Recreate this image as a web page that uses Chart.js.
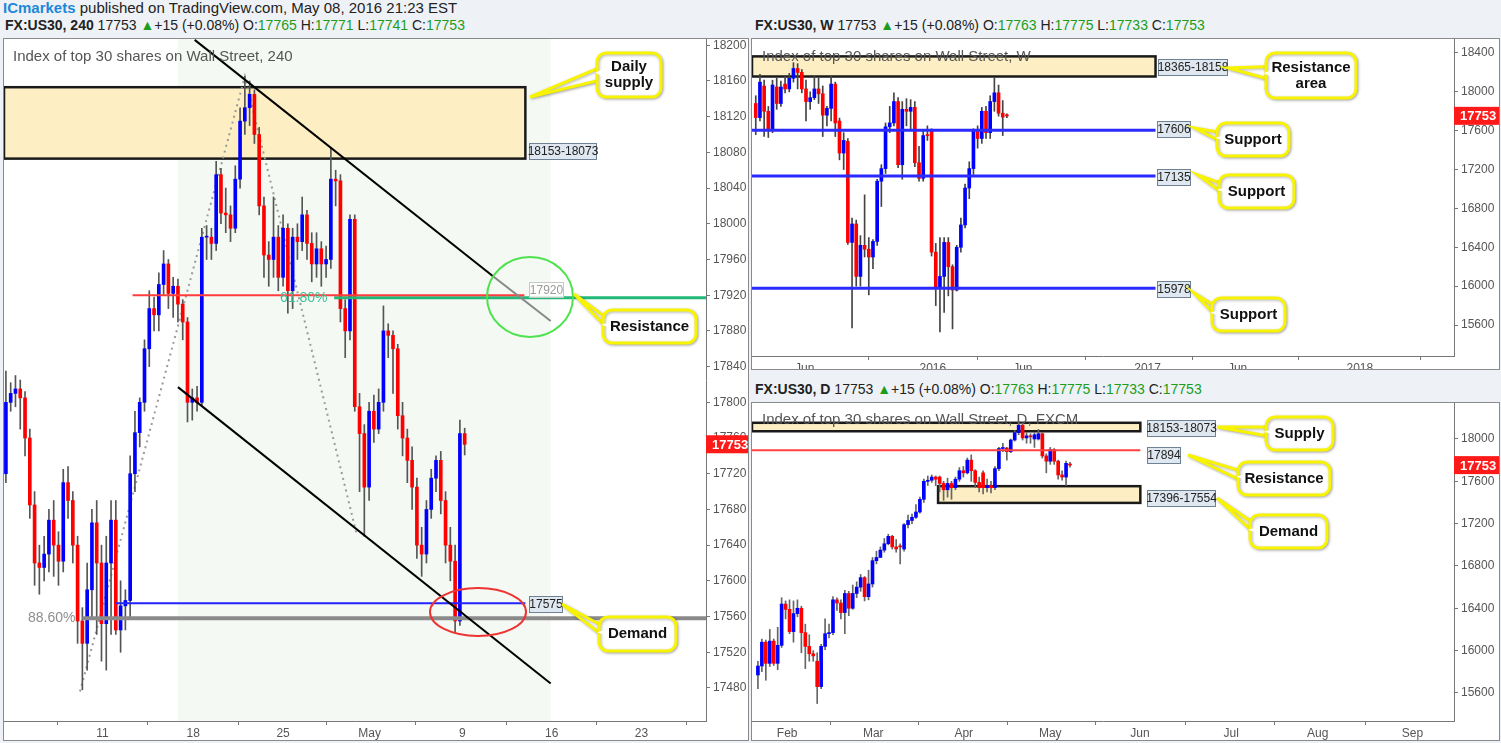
<!DOCTYPE html>
<html><head><meta charset="utf-8">
<script src="https://cdn.jsdelivr.net/npm/chart.js@4.4.0/dist/chart.umd.min.js"></script>
<style>
body{margin:0;width:1501px;height:743px;background:#eef2f6;position:relative;overflow:hidden;font-family:"Liberation Sans Narrow","Liberation Sans",Arial,sans-serif;}
.hdr{position:absolute;font-size:14px;white-space:nowrap;color:#222;line-height:16px}
.g{color:#1b9d1b}.b{font-weight:bold}
.frame{position:absolute;background:#fff;border:1px solid #8a8a8a;box-sizing:border-box}
canvas{position:absolute}
</style></head><body>
<div class="hdr" style="left:3px;top:0px;font-size:15px"><span style="color:#1e88d8;font-weight:bold">ICmarkets</span> published on TradingView.com, May 08, 2016 21:23 EST</div>
<div class="hdr" style="left:5px;top:17px"><span class="b">FX:US30, 240</span> 17753 <span class="g">▲</span>+15 (+0.08%) O:<span class="g">17765</span> H:<span class="g">17771</span> L:<span class="g">17741</span> C:<span class="g">17753</span></div>
<div class="hdr" style="left:755px;top:17px"><span class="b">FX:US30, W</span> 17753 <span class="g">▲</span>+15 (+0.08%) O:<span class="g">17763</span> H:<span class="g">17775</span> L:<span class="g">17733</span> C:<span class="g">17753</span></div>
<div class="hdr" style="left:755px;top:381px"><span class="b">FX:US30, D</span> 17753 <span class="g">▲</span>+15 (+0.08%) O:<span class="g">17763</span> H:<span class="g">17775</span> L:<span class="g">17733</span> C:<span class="g">17753</span></div>
<div class="frame" style="left:3px;top:38px;width:746px;height:703px"></div>
<div class="frame" style="left:751px;top:38px;width:749px;height:332px"></div>
<div class="frame" style="left:751px;top:402px;width:749px;height:339px"></div>
<canvas id="c1" width="744" height="701" style="left:4px;top:39px"></canvas>
<canvas id="c2" width="747" height="330" style="left:752px;top:39px"></canvas>
<canvas id="c3" width="747" height="337" style="left:752px;top:403px"></canvas>
<script>
// ---------- 240 (4-hour) chart data ----------
const h4Open  = [17720,17800,17810,17815,17805,17760,17685,17620,17615,17630,17668,17640,17622,17710,17690,17640,17555,17530,17590,17665,17620,17552,17620,17668,17545,17572,17578,17720,17766,17800,17860,17905,17898,17932,17955,17922,17930,17910,17890,17800,17805,17800,17985,17985,17978,18055,18012,18010,17995,18050,18115,18130,18145,18100,18020,17965,17960,17985,17940,17995,17925,17985,17980,18010,17978,17955,17972,17955,17960,18050,18048,17905,17880,18005,17795,17765,17705,17790,17770,17800,17880,17875,17860,17785,17760,17735,17705,17640,17630,17680,17715,17735,17690,17640,17622,17555,17765];
const h4Close = [17800,17810,17815,17805,17760,17685,17620,17615,17630,17668,17640,17622,17710,17690,17640,17555,17530,17590,17665,17620,17552,17620,17668,17545,17572,17578,17720,17766,17800,17860,17905,17898,17932,17955,17922,17930,17910,17890,17800,17805,17800,17985,17985,17978,18055,18012,18010,17995,18050,18115,18130,18145,18100,18020,17965,17960,17985,17940,17995,17925,17985,17980,18010,17978,17955,17972,17955,17960,18050,18048,17905,17880,18005,17795,17765,17705,17790,17770,17800,17880,17875,17860,17785,17760,17735,17705,17640,17630,17680,17715,17735,17690,17640,17622,17555,17765,17753];
const h4High  = [17835,17822,17830,17825,17812,17770,17700,17640,17650,17680,17690,17655,17725,17728,17700,17650,17570,17620,17680,17690,17640,17650,17690,17690,17600,17590,17740,17790,17805,17870,17925,17918,17945,17970,17960,17940,17938,17915,17895,17815,17818,17995,17998,17995,18070,18062,18040,18020,18065,18130,18165,18160,18150,18108,18030,17980,18030,17998,18010,18000,17995,18000,18030,18015,17990,17990,17980,17975,18085,18060,18055,17915,18010,18010,17810,17775,17800,17808,17815,17908,17888,17880,17865,17800,17770,17750,17715,17660,17690,17725,17740,17745,17700,17660,17640,17780,17771];
const h4Low   = [17710,17790,17795,17770,17740,17670,17595,17585,17600,17610,17605,17595,17610,17670,17620,17530,17478,17500,17560,17540,17510,17500,17540,17540,17520,17545,17560,17700,17750,17790,17840,17880,17880,17920,17905,17895,17890,17870,17778,17780,17790,17795,17960,17960,17970,18000,17990,17980,17990,18040,18100,18110,18090,18010,17940,17930,17940,17925,17930,17900,17905,17960,17970,17960,17935,17940,17930,17940,17950,18020,17890,17850,17870,17790,17700,17650,17690,17755,17765,17790,17850,17810,17770,17740,17710,17680,17625,17605,17620,17670,17700,17675,17620,17600,17542,17550,17741];
const h4XTickPos    = [20.2, 39.2, 58, 76.1, 95.5, 114.2, 133];
const h4XTickLabels = ['11','18','25','May','9','16','23'];
const h4YTicks = [17480,17520,17560,17600,17640,17680,17720,17760,17800,17840,17880,17920,17960,18000,18040,18080,18120,18160,18200];
const h4Supply = [18073, 18153];
const h4Resistance = 17920, h4Fib618 = 17917, h4Demand = 17575, h4Fib886 = 17558;

// ---------- Weekly chart data ----------
const wOpen  = [17880,17735,18060,17800,17610,18050,17880,18080,18030,18140,18240,18200,18030,17900,17940,18030,17980,17760,17830,18080,17700,17370,17490,16450,16640,16100,16420,16380,16300,16460,17080,17210,17640,17680,17900,17250,17820,17800,17840,17270,17110,17560,17600,16350,15990,16100,16450,16200,15960,16400,16630,17010,17210,17600,17520,17800,17580,17900,17990,17780,17763];
const wClose = [17735,18100,17800,17610,18070,17880,18050,18030,18140,18240,18200,18030,17900,17940,18030,17980,17760,17830,18080,17680,17370,17500,16450,16640,16100,16420,16380,16300,16460,17080,17210,17640,17680,17900,17250,17820,17800,17840,17270,17110,17550,17550,16350,15990,16100,16450,16200,15960,16400,16630,17010,17210,17600,17520,17800,17580,17900,17990,17780,17740,17753];
const wHigh  = [17960,18180,18120,17850,18120,18140,18110,18170,18190,18300,18290,18230,18120,18000,18160,18140,18060,17850,18160,18100,17730,17580,17520,16700,16680,16520,16940,16500,16480,17100,17250,17680,17850,17990,17940,17900,17930,17920,17900,17440,17610,17650,17620,16440,16500,16500,16500,16220,16420,16700,17050,17280,17620,17650,17840,17850,17960,18150,18070,17910,17775];
const wLow   = [17560,17700,17540,17530,17580,17820,17850,17990,18000,18100,18030,17990,17700,17820,17920,17880,17540,17650,17700,17540,17300,17200,16430,15570,16000,16000,16300,15910,16180,16420,16820,17160,17580,17650,17220,17100,17650,17600,17230,17080,17080,17500,16310,15800,15530,15730,15900,15560,15950,16350,16600,16900,17150,17420,17470,17520,17520,17800,17750,17550,17733];
const wXTickPos    = [11.7, 42.3, 63.8, 93.6, 115.1, 144.3];
const wXTickLabels = ['Jun','2016','Jun','2017','Jun','2018'];
const wYTicks = [15600,16000,16400,16800,17200,17600,18000,18400];
const wResistArea = [18158, 18365];
const wSupports = [17606, 17135, 15978];

// ---------- Daily chart data ----------
const dOpen  = [15770,15855,16080,15880,16090,15880,16050,16440,16390,16180,16350,16400,16170,16040,15970,15900,15660,16040,16160,16170,16480,16450,16360,16540,16400,16540,16600,16690,16510,16630,16850,16880,16950,17010,17080,16980,16990,16960,17190,17230,17260,17310,17430,17600,17610,17640,17640,17580,17520,17580,17540,17620,17700,17680,17800,17700,17590,17680,17540,17560,17540,17720,17910,17915,17880,17990,18060,18130,18010,18030,18000,18000,18050,17840,17790,17900,17790,17660,17640,17763];
const dClose = [15855,16080,15880,16090,15880,16050,16440,16390,16180,16350,16400,16170,16040,15970,15950,15660,16040,16160,16170,16480,16450,16360,16540,16400,16540,16600,16690,16510,16630,16850,16880,16950,17010,17080,16980,16960,16980,17190,17230,17260,17310,17430,17600,17610,17640,17620,17580,17520,17580,17540,17620,17700,17680,17800,17700,17590,17540,17540,17560,17540,17720,17910,17915,17880,17990,18060,18130,18010,18030,18020,18040,18050,17840,17790,17900,17790,17660,17640,17770,17753];
const dHigh  = [15900,16110,16100,16200,16110,16220,16500,16470,16480,16470,16480,16420,16250,16150,16000,15980,16060,16300,16250,16510,16500,16480,16570,16560,16620,16650,16720,16700,16760,16880,16940,16980,17060,17100,17090,17050,17010,17200,17280,17290,17380,17450,17620,17650,17660,17650,17650,17600,17630,17600,17640,17730,17740,17820,17850,17710,17640,17700,17620,17600,17740,17920,17960,17920,18000,18080,18170,18150,18060,18050,18060,18090,18060,17860,17920,17910,17800,17700,17790,17780];
const dLow   = [15640,15800,15720,15850,15860,15820,16030,16300,16160,16080,16320,15980,15830,15900,15900,15500,15640,16010,16120,16150,16380,16300,16160,16330,16390,16500,16560,16470,16480,16600,16820,16920,16930,17000,16960,16930,16820,16940,17160,17200,17250,17300,17400,17560,17590,17560,17500,17420,17450,17430,17520,17600,17640,17670,17600,17540,17500,17480,17500,17490,17520,17700,17880,17800,17870,17980,18040,17990,17960,17960,17920,17990,17820,17680,17760,17760,17620,17610,17560,17733];
const dXTickPos    = [7.4, 29.2, 52.1, 74.0, 96.7, 119.8, 141.7, 165.7];
const dXTickLabels = ['Feb','Mar','Apr','May','Jun','Jul','Aug','Sep'];
const dYTicks = [15600,16000,16400,16800,17200,17600,18000];
const dSupply = [18073, 18153];
const dDemand = [17396, 17554];
const dResistance = 17894;

const lastPrice = 17753;
const FONT = '"Liberation Sans Narrow","Liberation Sans",Arial,sans-serif';

function roundRect(ctx,x,y,w,h,r){ctx.beginPath();ctx.moveTo(x+r,y);ctx.arcTo(x+w,y,x+w,y+h,r);ctx.arcTo(x+w,y+h,x,y+h,r);ctx.arcTo(x,y+h,x,y,r);ctx.arcTo(x,y,x+w,y,r);ctx.closePath();}
function callout(ctx,off,b){
  const x=b.x-off[0],y=b.y-off[1],tx=b.tx-off[0],ty=b.ty-off[1];
  ctx.save();
  ctx.shadowColor='rgba(0,0,0,0.3)';ctx.shadowBlur=3;ctx.shadowOffsetX=1;ctx.shadowOffsetY=1;
  ctx.lineWidth=3;ctx.strokeStyle='#f8f400';ctx.fillStyle='#fff';
  const a1=y+b.h*0.3,a2=y+b.h*0.6;
  ctx.beginPath();ctx.moveTo(x+6,a1);ctx.lineTo(tx,ty);ctx.lineTo(x+6,a2);ctx.closePath();ctx.fill();ctx.stroke();
  roundRect(ctx,x,y,b.w,b.h,9);ctx.fill();ctx.stroke();
  ctx.shadowColor='transparent';
  ctx.beginPath();ctx.moveTo(x+8,a1+2);ctx.lineTo(x-2,(a1+a2)/2);ctx.lineTo(x+8,a2-2);ctx.closePath();ctx.fill();
  ctx.fillStyle='#111';ctx.font='bold 15px '+FONT;ctx.textAlign='center';ctx.textBaseline='middle';
  const n=b.text.length;
  b.text.forEach((t,i)=>ctx.fillText(t,x+b.w/2,y+b.h/2+(i-(n-1)/2)*16));
  ctx.restore();
}
function tag(ctx,off,x,y,w,h,text,faded){
  ctx.save();ctx.fillStyle=faded?'rgba(255,255,255,0.75)':'#dfe8f0';ctx.strokeStyle=faded?'#c8c8c8':'#6f8294';ctx.lineWidth=1;
  ctx.fillRect(x-off[0]+0.5,y-off[1]+0.5,w,h);ctx.strokeRect(x-off[0]+0.5,y-off[1]+0.5,w,h);
  ctx.fillStyle=faded?'#9a9a9a':'#222';ctx.font='12px '+FONT;ctx.textAlign='center';ctx.textBaseline='middle';
  ctx.fillText(text,x-off[0]+w/2+0.5,y-off[1]+h/2+1);ctx.restore();
}
function priceTag(c){
  const ctx=c.ctx,y=c.scales.y.getPixelForValue(lastPrice),x=c.chartArea.right;
  ctx.save();ctx.fillStyle='#ff1a1a';ctx.fillRect(x,y-9,c.width-x,18);
  ctx.fillStyle='#fff';ctx.font='bold 13px '+FONT;ctx.textBaseline='middle';ctx.fillText(String(lastPrice),x+6,y+1);ctx.restore();
}
function zone(c,x0,x1,r,fill){
  const ctx=c.ctx,X0=c.scales.x.getPixelForValue(x0),X1=c.scales.x.getPixelForValue(x1);
  const Y0=c.scales.y.getPixelForValue(r[1]),Y1=c.scales.y.getPixelForValue(r[0]);
  ctx.save();ctx.fillStyle=fill||'#fdefc3';ctx.fillRect(X0,Y0,X1-X0,Y1-Y0);ctx.lineWidth=2.5;ctx.strokeStyle='#1a1a1a';ctx.strokeRect(X0,Y0,X1-X0,Y1-Y0);ctx.restore();
}
function seg(c,pts,color,w,dash){
  const ctx=c.ctx;ctx.save();ctx.beginPath();ctx.rect(c.chartArea.left,c.chartArea.top,c.chartArea.right-c.chartArea.left,c.chartArea.bottom-c.chartArea.top);ctx.clip();
  ctx.strokeStyle=color;ctx.lineWidth=w;if(dash)ctx.setLineDash(dash);ctx.beginPath();
  pts.forEach((p,i)=>{const X=c.scales.x.getPixelForValue(p[0]),Y=c.scales.y.getPixelForValue(p[1]);i?ctx.lineTo(X,Y):ctx.moveTo(X,Y);});
  ctx.stroke();ctx.restore();
}
function text(c,off,t,x,y,color,font){const ctx=c.ctx;ctx.save();ctx.fillStyle=color;ctx.font=font||('14px '+FONT);ctx.textBaseline='middle';ctx.fillText(t,x-off[0],y-off[1]);ctx.restore();}
function ellipse(c,off,cx,cy,rx,ry,color){const ctx=c.ctx;ctx.save();ctx.strokeStyle=color;ctx.lineWidth=2;ctx.beginPath();ctx.ellipse(cx-off[0],cy-off[1],rx,ry,0,0,Math.PI*2);ctx.stroke();ctx.restore();}

function makeChart(id,o){
  const wicks=o.open.map((_,i)=>({x:i,y:[o.low[i],o.high[i]]}));
  const bodies=o.open.map((_,i)=>({x:i,y:[o.open[i],o.close[i]]}));
  const cols=o.open.map((v,i)=>o.close[i]>=v?'#0000ff':'#ff0000');
  const zeroPad=s=>{s.paddingTop=0;s.paddingBottom=0;s.paddingLeft=0;s.paddingRight=0;};
  return new Chart(document.getElementById(id),{
    type:'bar',
    data:{datasets:[
      {data:wicks,backgroundColor:o.wickColor,barThickness:1,grouped:false,order:2},
      {data:bodies,backgroundColor:cols,barThickness:o.bodyW,minBarLength:1,grouped:false,order:1}
    ]},
    options:{responsive:false,devicePixelRatio:1,animation:false,
      layout:{padding:0},
      plugins:{legend:{display:false},tooltip:{enabled:false}},
      scales:{
        x:{type:'linear',min:o.xMin,max:o.xMax,offset:false,
          afterFit:s=>{s.height=o.xAxisH;zeroPad(s);},
          afterBuildTicks:s=>{s.ticks=o.xTickPos.map(v=>({value:v}));},
          ticks:{autoSkip:false,maxRotation:0,color:'#555',font:{size:12,family:FONT},padding:1,
            callback:(v)=>{const k=o.xTickPos.indexOf(v);return k>=0?o.xTickLabels[k]:'';}},
          grid:{display:true,drawOnChartArea:false,tickLength:4,color:'#777'},border:{color:'#777'}},
        y:{position:'right',min:o.yMin,max:o.yMax,
          afterFit:s=>{s.width=o.yAxisW;zeroPad(s);},
          afterBuildTicks:s=>{s.ticks=o.yTicks.map(v=>({value:v}));},
          ticks:{color:'#555',font:{size:12,family:FONT},padding:3,callback:v=>String(v)},
          grid:{display:true,drawOnChartArea:false,tickLength:4,color:'#777'},border:{color:'#777'}}
      }
    },
    plugins:[{id:'ov',beforeDatasetsDraw:c=>o.before&&o.before(c),afterDatasetsDraw:c=>{o.after&&o.after(c);priceTag(c);}}]
  });
}

// ---- 240 chart
const off1=[4,39];
makeChart('c1',{open:h4Open,close:h4Close,high:h4High,low:h4Low,bodyW:3,wickColor:'#555',
  xMin:-0.4,xMax:146.5,xTickPos:h4XTickPos,xTickLabels:h4XTickLabels,yTicks:h4YTicks,yMin:17443,yMax:18207,xAxisH:19,yAxisW:42,
  before:c=>{
    const ctx=c.ctx,X0=c.scales.x.getPixelForValue(36),X1=c.scales.x.getPixelForValue(114);
    ctx.save();ctx.fillStyle='#f5f9f4';ctx.fillRect(X0,c.chartArea.top,X1-X0,c.chartArea.bottom-c.chartArea.top);ctx.restore();
    zone(c,-0.4,108.7,h4Supply);
    seg(c,[[15.5,17476],[50,18165],[73.5,17650]],'#9a9a9a',2,[2,4]);
  },
  after:c=>{
    seg(c,[[68.7,h4Fib618],[146.5,h4Fib618]],'#22b878',3);
    seg(c,[[26.5,h4Resistance],[108.5,h4Resistance]],'#ff3d3d',2);
    seg(c,[[16,h4Fib886],[146.5,h4Fib886]],'#8a8a8a',4);
    seg(c,[[23,h4Demand],[108.7,h4Demand]],'#2323ff',2);
    seg(c,[[39.5,18206],[102,17941]],'#000',2);
    seg(c,[[102,17941],[114,17891]],'#888',2);
    seg(c,[[36,17817],[114,17485]],'#000',2);
    text(c,off1,'61.80%',280,298,'#3cc296');
    text(c,off1,'88.60%',28,618,'#8f8f8f');
    text(c,off1,'Index of top 30 shares on Wall Street, 240',13,57,'#555','15px '+FONT);
    ellipse(c,off1,530,297,43,40,'#4ee34e');
    ellipse(c,off1,478,612,48,24,'#ee3333');
    tag(c.ctx,off1,529,143,67,16,'18153-18073');
    tag(c.ctx,off1,529,282,34,15,'17920',true);
    tag(c.ctx,off1,529,596,33,16,'17575');
    callout(c.ctx,off1,{x:597,y:53,w:64,h:44,tx:530,ty:97,text:['Daily','supply']});
    callout(c.ctx,off1,{x:603,y:310,w:93,h:33,tx:574,ty:294,text:['Resistance']});
    callout(c.ctx,off1,{x:599,y:617,w:77,h:34,tx:562,ty:604,text:['Demand']});
  }});

// ---- Weekly chart
const off2=[752,39];
makeChart('c2',{open:wOpen,close:wClose,high:wHigh,low:wLow,bodyW:3,wickColor:'#444',
  xMin:-0.9,xMax:166.8,xTickPos:wXTickPos,xTickLabels:wXTickLabels,yTicks:wYTicks,yMin:15281,yMax:18544,xAxisH:13,yAxisW:45,
  before:c=>{ zone(c,-0.9,95.5,wResistArea); text(c,off2,'Index of top 30 shares on Wall Street, W',762,57,'#555','15px '+FONT);},
  after:c=>{
    wSupports.forEach(v=>seg(c,[[-0.9,v],[95.5,v]],'#2b2bff',3));
    tag(c.ctx,off2,1158,59,69,16,'18365-18158');
    tag(c.ctx,off2,1157,121,33,16,'17606');
    tag(c.ctx,off2,1157,169,33,16,'17135');
    tag(c.ctx,off2,1157,281,33,16,'15978');
    callout(c.ctx,off2,{x:1266,y:53,w:90,h:45,tx:1228,ty:68,text:['Resistance','area']});
    callout(c.ctx,off2,{x:1217,y:123,w:72,h:33,tx:1195,ty:128,text:['Support']});
    callout(c.ctx,off2,{x:1219,y:175,w:75,h:33,tx:1198,ty:175,text:['Support']});
    callout(c.ctx,off2,{x:1212,y:298,w:73,h:33,tx:1194,ty:293,text:['Support']});
  }});

// ---- Daily chart
const off3=[752,403];
makeChart('c3',{open:dOpen,close:dClose,high:dHigh,low:dLow,bodyW:3,wickColor:'#666',
  xMin:-1.5,xMax:176.2,xTickPos:dXTickPos,xTickLabels:dXTickLabels,yTicks:dYTicks,yMin:15335,yMax:18340,xAxisH:19,yAxisW:45,
  before:c=>{ zone(c,-1.5,96.8,dSupply); zone(c,45.6,96.8,dDemand);
    text(c,off3,'Index of top 30 shares on Wall Street, D, FXCM',762,420,'#555','15px '+FONT);},
  after:c=>{
    seg(c,[[-1.5,dResistance],[96.8,dResistance]],'#ff4040',2);
    tag(c.ctx,off3,1147,420,68,16,'18153-18073');
    tag(c.ctx,off3,1147,447,33,16,'17894');
    tag(c.ctx,off3,1147,490,68,16,'17396-17554');
    callout(c.ctx,off3,{x:1266,y:417,w:67,h:33,tx:1217,ty:427,text:['Supply']});
    callout(c.ctx,off3,{x:1238,y:462,w:92,h:33,tx:1188,ty:455,text:['Resistance']});
    callout(c.ctx,off3,{x:1250,y:515,w:77,h:33,tx:1217,ty:498,text:['Demand']});
  }});
</script></body></html>
